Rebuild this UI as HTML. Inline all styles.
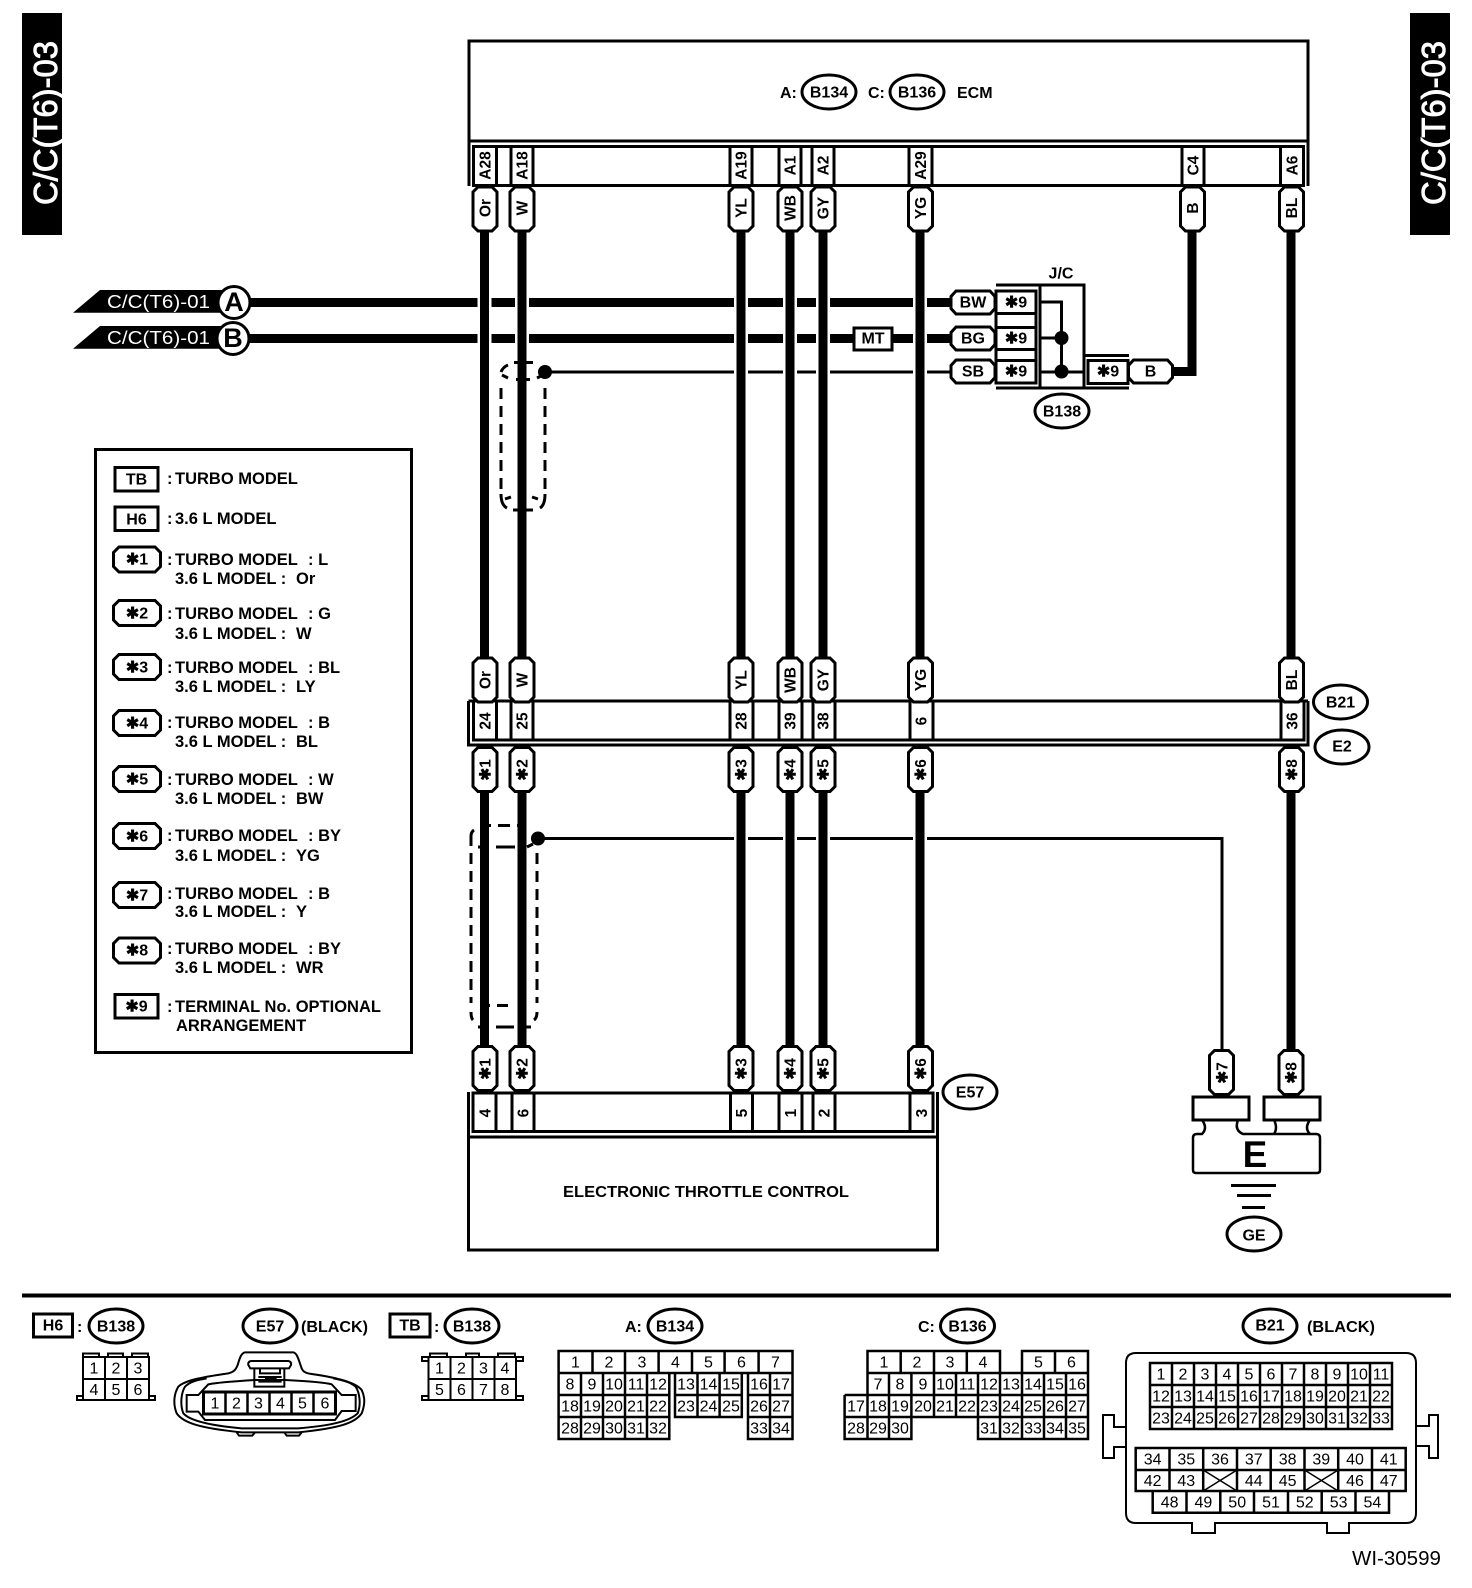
<!DOCTYPE html>
<html><head><meta charset="utf-8"><title>Wiring diagram</title>
<style>
html,body{margin:0;padding:0;background:#fff}
svg{display:block}
text{font-family:"Liberation Sans",sans-serif;fill:#000}
.b{font-weight:bold;font-size:16px}
.c{text-anchor:middle;dominant-baseline:central;transform:translate(0,1px)}
.r{font-weight:bold;font-size:15.5px;text-anchor:middle;dominant-baseline:central}
.n{font-size:16px;text-anchor:middle;dominant-baseline:central;transform:translate(0,1px)}
.l{font-weight:bold;font-size:16.5px}
.s{fill:#fff;stroke:#000;stroke-width:3}
.p{fill:none;stroke:#000;stroke-width:3}
.g{fill:none;stroke:#000;stroke-width:2.5}
.w{stroke:#fff;stroke-width:.9px;style:none}
</style></head><body>
<svg xmlns="http://www.w3.org/2000/svg" width="1472" height="1588" viewBox="0 0 1472 1588">
<defs>
<polygon id="vp" class="s" points="-7,-22 7,-22 12,-17 12,17 7,22 -7,22 -12,17 -12,-17"/>
<polygon id="hp" class="s" points="-17,-11.5 17,-11.5 22,-6 22,6 17,11.5 -17,11.5 -22,6 -22,-6"/>
<polygon id="lp" class="s" points="-18,-12.5 18,-12.5 23.5,-7 23.5,7 18,12.5 -18,12.5 -23.5,7 -23.5,-7"/>
<ellipse id="el" class="s" rx="27" ry="17"/>
</defs>
<rect width="1472" height="1588" fill="#fff"/>

<!-- side tabs -->
<rect x="22" y="13" width="40" height="222" fill="#000"/>
<text transform="translate(57,205) rotate(-90)" font-size="33" textLength="164" lengthAdjust="spacingAndGlyphs" style="fill:#fff;stroke:#fff;stroke-width:.9px">C/C(T6)-03</text>
<rect x="1410" y="13" width="40" height="222" fill="#000"/>
<text transform="translate(1445,205) rotate(-90)" font-size="33" textLength="164" lengthAdjust="spacingAndGlyphs" style="fill:#fff;stroke:#fff;stroke-width:.9px">C/C(T6)-03</text>

<!-- horizontal wires -->
<path d="M245 302.500H952M245 338.500H952" stroke="#000" stroke-width="9" fill="none"/>
<path d="M545 372H952M538 838.500H1222V1050" stroke="#000" stroke-width="3" fill="none"/>
<path d="M1170 371.500H1196.500M1192 231V376" stroke="#000" stroke-width="9" fill="none"/>

<!-- gaps -->
<path d="M484.500 290V350M522 290V350M741 290V382M790 290V382M823 290V382M920 290V382M741 830V847M790 830V847M823 830V847M920 830V847" stroke="#fff" stroke-width="14" fill="none"/>

<!-- shields -->
<path d="M501 388V490M545 388V490" fill="none" stroke="#000" stroke-width="3" stroke-dasharray="11 7"/>
<path d="M514 362.500H533M516 379.500H530M501 372Q503 367 508 365M502 375L508 378M537 378L545 374M505 499L511 497M532 497L538 499M501 494Q501 505 507 508M513 510H533M545 494Q545 505 540 508" fill="none" stroke="#000" stroke-width="3"/>
<path d="M471 853V1003M537 853V1003" fill="none" stroke="#000" stroke-width="3" stroke-dasharray="11 7"/>
<path d="M498 825.500H510M491 825.500H486M522 825.500H517M496 847H515M478 847H484M497 1005.500H508M486 1005.500H490M518 1005.500H522M496 1027H514M478 1027H486M524 1027H531M471 846V836Q471 832 474 830M471 1012Q471 1018 473 1020M537 1012Q537 1018 534 1020M533 844L527 847" fill="none" stroke="#000" stroke-width="3"/>

<!-- vertical wires -->
<path d="M484.500 231V660M484.500 792V1047M522 231V660M522 792V1047M741 231V660M741 792V1047M790 231V660M790 792V1047M823 231V660M823 792V1047M920 231V660M920 792V1047M1291 231V660M1291 792V1050" stroke="#000" stroke-width="9" fill="none"/>
<circle cx="545" cy="372" r="7"/><circle cx="538" cy="838.500" r="7"/>

<!-- ECM -->
<rect x="469" y="41" width="839" height="100" class="p"/>
<path class="p" d="M469 141V186M1308 141V186M473.500 146.500H1303.500V185.500H473.500Z"/>
<rect x="473.500" y="146.500" width="23" height="39" class="s"/>
<rect x="511" y="146.500" width="22" height="39" class="s"/>
<rect x="730" y="146.500" width="22" height="39" class="s"/>
<rect x="779" y="146.500" width="22" height="39" class="s"/>
<rect x="812" y="146.500" width="22" height="39" class="s"/>
<rect x="909" y="146.500" width="23" height="39" class="s"/>
<rect x="1182" y="146.500" width="22" height="39" class="s"/>
<rect x="1280.500" y="146.500" width="23" height="39" class="s"/>
<g transform="translate(1 0)">
<text class="r" transform="translate(485,165.500) rotate(-90)">A28</text>
<text class="r" transform="translate(522,165.500) rotate(-90)">A18</text>
<text class="r" transform="translate(741,165.500) rotate(-90)">A19</text>
<text class="r" transform="translate(790,165.500) rotate(-90)">A1</text>
<text class="r" transform="translate(823,165.500) rotate(-90)">A2</text>
<text class="r" transform="translate(920.500,165.500) rotate(-90)">A29</text>
<text class="r" transform="translate(1193,165.500) rotate(-90)">C4</text>
<text class="r" transform="translate(1292,165.500) rotate(-90)">A6</text>
</g>
<text class="b" x="780" y="98">A:</text>
<use href="#el" x="829" y="92"/><text class="b c" x="829" y="92">B134</text>
<text class="b" x="868" y="98">C:</text>
<use href="#el" x="917" y="92"/><text class="b c" x="917" y="92">B136</text>
<text class="b" x="957" y="98">ECM</text>

<!-- upper pills -->
<use href="#vp" x="485" y="209"/><use href="#vp" x="522" y="209"/><use href="#vp" x="741" y="209"/><use href="#vp" x="790" y="209"/><use href="#vp" x="823" y="209"/><use href="#vp" x="920.500" y="209"/><use href="#vp" x="1192.500" y="209"/><use href="#vp" x="1291.500" y="209"/>
<g transform="translate(1 0)">
<text class="r" transform="translate(485,208) rotate(-90)">Or</text>
<text class="r" transform="translate(522,208) rotate(-90)">W</text>
<text class="r" transform="translate(741,208) rotate(-90)">YL</text>
<text class="r" transform="translate(790,208) rotate(-90)">WB</text>
<text class="r" transform="translate(823,208) rotate(-90)">GY</text>
<text class="r" transform="translate(920.500,208) rotate(-90)">YG</text>
<text class="r" transform="translate(1192.500,208) rotate(-90)">B</text>
<text class="r" transform="translate(1291.500,208) rotate(-90)">BL</text>
</g>

<!-- off-page connectors -->
<polygon points="73,312.700 100,290 225,290 225,312.700" fill="#000"/>
<polygon points="73,348.700 100,326 225,326 225,348.700" fill="#000"/>
<text x="107" y="308" font-size="18" textLength="103" lengthAdjust="spacingAndGlyphs" style="fill:#fff">C/C(T6)-01</text>
<text x="107" y="344" font-size="18" textLength="103" lengthAdjust="spacingAndGlyphs" style="fill:#fff">C/C(T6)-01</text>
<circle cx="234" cy="302.500" r="16" class="s"/><text class="c" x="234" y="301" font-size="27" font-weight="bold">A</text>
<circle cx="233" cy="338.500" r="16" class="s"/><text class="c" x="233" y="337" font-size="27" font-weight="bold">B</text>

<!-- MT -->
<rect x="854" y="328" width="38" height="22" class="s"/><text class="b c" x="873" y="338">MT</text>

<!-- J/C block -->
<text class="b c" x="1061" y="273">J/C</text>
<path class="p" d="M996 285H1084V388H996M1040 285V388M1084 355.500H1129M1084 388H1129"/>
<rect x="996" y="291" width="40" height="92" class="s"/>
<path class="p" d="M996 313.500H1036M996 327.500H1036M996 349.500H1036M996 360.500H1036"/>
<rect x="1088" y="360.500" width="40" height="23" class="s"/>
<path d="M1040 302H1061.500V372M1040 338H1061.500M1040 372H1084" fill="none" stroke="#000" stroke-width="3"/>
<circle cx="1061.500" cy="338" r="7"/><circle cx="1061.500" cy="371.500" r="7"/>
<text class="b c" x="1016" y="302">✱9</text>
<text class="b c" x="1016" y="338">✱9</text>
<text class="b c" x="1016" y="371">✱9</text>
<text class="b c" x="1108" y="371">✱9</text>
<use href="#hp" x="973" y="302.500"/><text class="b c" x="973" y="302">BW</text>
<use href="#hp" x="973" y="338.500"/><text class="b c" x="973" y="338">BG</text>
<use href="#hp" x="973" y="371.500"/><text class="b c" x="973" y="371">SB</text>
<use href="#hp" x="1150.500" y="371.500"/><text class="b c" x="1150.500" y="371">B</text>
<use href="#el" x="1062" y="411"/><text class="b c" x="1062" y="411">B138</text>

<!-- B21/E2 connector -->
<path class="p" d="M468.500 701V745H1308V701M473.500 701V740H1304V701M468.500 701H1308"/>
<rect x="473.500" y="701" width="23" height="39" class="s"/>
<rect x="511" y="701" width="22" height="39" class="s"/>
<rect x="730" y="701" width="23" height="39" class="s"/>
<rect x="779" y="701" width="23" height="39" class="s"/>
<rect x="813" y="701" width="22" height="39" class="s"/>
<rect x="910" y="701" width="23" height="39" class="s"/>
<rect x="1281" y="701" width="23" height="39" class="s"/>
<g transform="translate(1 0)">
<text class="r" transform="translate(485,721) rotate(-90)">24</text>
<text class="r" transform="translate(522,721) rotate(-90)">25</text>
<text class="r" transform="translate(741,721) rotate(-90)">28</text>
<text class="r" transform="translate(790,721) rotate(-90)">39</text>
<text class="r" transform="translate(823,721) rotate(-90)">38</text>
<text class="r" transform="translate(921,721) rotate(-90)">6</text>
<text class="r" transform="translate(1292,721) rotate(-90)">36</text>
</g>
<use href="#vp" x="485" y="680"/><use href="#vp" x="522" y="680"/><use href="#vp" x="741" y="680"/><use href="#vp" x="790" y="680"/><use href="#vp" x="823" y="680"/><use href="#vp" x="920.500" y="680"/><use href="#vp" x="1291.500" y="680"/>
<g transform="translate(1 0)">
<text class="r" transform="translate(485,680) rotate(-90)">Or</text>
<text class="r" transform="translate(522,680) rotate(-90)">W</text>
<text class="r" transform="translate(741,680) rotate(-90)">YL</text>
<text class="r" transform="translate(790,680) rotate(-90)">WB</text>
<text class="r" transform="translate(823,680) rotate(-90)">GY</text>
<text class="r" transform="translate(920.500,680) rotate(-90)">YG</text>
<text class="r" transform="translate(1291.500,680) rotate(-90)">BL</text>
</g>
<use href="#vp" x="485" y="769.500"/><use href="#vp" x="522" y="769.500"/><use href="#vp" x="741" y="769.500"/><use href="#vp" x="790" y="769.500"/><use href="#vp" x="823" y="769.500"/><use href="#vp" x="920.500" y="769.500"/><use href="#vp" x="1291.500" y="769.500"/>
<g transform="translate(1 0)">
<text class="r" transform="translate(485,770) rotate(-90)">✱1</text>
<text class="r" transform="translate(522,770) rotate(-90)">✱2</text>
<text class="r" transform="translate(741,770) rotate(-90)">✱3</text>
<text class="r" transform="translate(790,770) rotate(-90)">✱4</text>
<text class="r" transform="translate(823,770) rotate(-90)">✱5</text>
<text class="r" transform="translate(920.500,770) rotate(-90)">✱6</text>
<text class="r" transform="translate(1291.500,770) rotate(-90)">✱8</text>
</g>
<use href="#el" x="1340.500" y="702"/><text class="b c" x="1340.500" y="702">B21</text>
<use href="#el" x="1342" y="747"/><text class="b c" x="1342" y="746">E2</text>

<!-- E57 lower -->
<rect x="468.500" y="1137" width="469" height="113" class="p"/>
<path class="p" d="M468.500 1092V1137M937.500 1092V1137M473 1093H933V1131.500H473Z"/>
<rect x="473" y="1093" width="23" height="38.500" class="s"/>
<rect x="512" y="1093" width="22" height="38.500" class="s"/>
<rect x="730.500" y="1093" width="22" height="38.500" class="s"/>
<rect x="779" y="1093" width="23" height="38.500" class="s"/>
<rect x="813" y="1093" width="22" height="38.500" class="s"/>
<rect x="910" y="1093" width="23" height="38.500" class="s"/>
<g transform="translate(1 0)">
<text class="r" transform="translate(485,1113) rotate(-90)">4</text>
<text class="r" transform="translate(523,1113) rotate(-90)">6</text>
<text class="r" transform="translate(741.500,1113) rotate(-90)">5</text>
<text class="r" transform="translate(790.500,1113) rotate(-90)">1</text>
<text class="r" transform="translate(824,1113) rotate(-90)">2</text>
<text class="r" transform="translate(921.500,1113) rotate(-90)">3</text>
</g>
<use href="#vp" x="485" y="1068.500"/><use href="#vp" x="522" y="1068.500"/><use href="#vp" x="741" y="1068.500"/><use href="#vp" x="790" y="1068.500"/><use href="#vp" x="823" y="1068.500"/><use href="#vp" x="920.500" y="1068.500"/>
<g transform="translate(1 0)">
<text class="r" transform="translate(485,1069) rotate(-90)">✱1</text>
<text class="r" transform="translate(522,1069) rotate(-90)">✱2</text>
<text class="r" transform="translate(741,1069) rotate(-90)">✱3</text>
<text class="r" transform="translate(790,1069) rotate(-90)">✱4</text>
<text class="r" transform="translate(823,1069) rotate(-90)">✱5</text>
<text class="r" transform="translate(920.500,1069) rotate(-90)">✱6</text>
</g>
<text class="b" x="563" y="1197" textLength="286" lengthAdjust="spacingAndGlyphs">ELECTRONIC THROTTLE CONTROL</text>
<use href="#el" x="970" y="1092"/><text class="b c" x="970" y="1092">E57</text>

<!-- ground -->
<use href="#vp" x="1221.500" y="1072.500"/><use href="#vp" x="1291" y="1072.500"/>
<g transform="translate(1 0)">
<text class="r" transform="translate(1222,1073) rotate(-90)">✱7</text>
<text class="r" transform="translate(1291,1073) rotate(-90)">✱8</text>
</g>
<rect x="1193" y="1097" width="56" height="23" class="s"/>
<rect x="1264" y="1097" width="56" height="23" class="s"/>
<path class="g" d="M1202 1120Q1208 1128 1202 1134H1197Q1193 1134 1193 1138V1170Q1193 1173 1196 1173H1317Q1320 1173 1320 1170V1138Q1320 1134 1316 1134H1243Q1234 1130 1238 1120M1274 1120Q1278 1128 1274 1134M1310 1120Q1304 1128 1310 1134"/>
<text x="1255" y="1167" text-anchor="middle" font-size="37" font-weight="bold">E</text>
<path class="p" d="M1231 1185.500H1276M1237 1195.500H1271M1242 1207.500H1265"/>
<use href="#el" x="1254" y="1234"/><text class="b c" x="1254" y="1235">GE</text>

<!-- legend -->
<rect x="95.500" y="449.500" width="316" height="603" class="p"/>
<rect x="115" y="467.500" width="43" height="23.500" class="s"/><text class="b c" x="136.500" y="479">TB</text>
<rect x="115" y="507" width="43" height="23.500" class="s"/><text class="b c" x="136.500" y="519">H6</text>
<use href="#lp" x="137" y="559.500"/><text class="b c" x="137" y="559">✱1</text>
<use href="#lp" x="137" y="613"/><text class="b c" x="137" y="613">✱2</text>
<use href="#lp" x="137" y="667"/><text class="b c" x="137" y="667">✱3</text>
<use href="#lp" x="137" y="723"/><text class="b c" x="137" y="723">✱4</text>
<use href="#lp" x="137" y="779"/><text class="b c" x="137" y="779">✱5</text>
<use href="#lp" x="137" y="836"/><text class="b c" x="137" y="836">✱6</text>
<use href="#lp" x="137" y="895"/><text class="b c" x="137" y="895">✱7</text>
<use href="#lp" x="137" y="950.500"/><text class="b c" x="137" y="950">✱8</text>
<rect x="115" y="994.500" width="43" height="23.500" class="s"/><text class="b c" x="136.500" y="1006">✱9</text>
<text class="l" x="167" y="484">:</text><text class="l" x="175" y="484">TURBO MODEL</text>
<text class="l" x="167" y="524">:</text><text class="l" x="175" y="524">3.6 L MODEL</text>
<text class="l" x="167" y="565">:</text><text class="l" x="175" y="565">TURBO MODEL</text><text class="l" x="308" y="565">: L</text>
<text class="l" x="175" y="584">3.6 L MODEL :</text><text class="l" x="296" y="584">Or</text>
<text class="l" x="167" y="619">:</text><text class="l" x="175" y="619">TURBO MODEL</text><text class="l" x="308" y="619">: G</text>
<text class="l" x="175" y="639">3.6 L MODEL :</text><text class="l" x="296" y="639">W</text>
<text class="l" x="167" y="673">:</text><text class="l" x="175" y="673">TURBO MODEL</text><text class="l" x="308" y="673">: BL</text>
<text class="l" x="175" y="692">3.6 L MODEL :</text><text class="l" x="296" y="692">LY</text>
<text class="l" x="167" y="728">:</text><text class="l" x="175" y="728">TURBO MODEL</text><text class="l" x="308" y="728">: B</text>
<text class="l" x="175" y="747">3.6 L MODEL :</text><text class="l" x="296" y="747">BL</text>
<text class="l" x="167" y="785">:</text><text class="l" x="175" y="785">TURBO MODEL</text><text class="l" x="308" y="785">: W</text>
<text class="l" x="175" y="804">3.6 L MODEL :</text><text class="l" x="296" y="804">BW</text>
<text class="l" x="167" y="841">:</text><text class="l" x="175" y="841">TURBO MODEL</text><text class="l" x="308" y="841">: BY</text>
<text class="l" x="175" y="861">3.6 L MODEL :</text><text class="l" x="296" y="861">YG</text>
<text class="l" x="167" y="899">:</text><text class="l" x="175" y="899">TURBO MODEL</text><text class="l" x="308" y="899">: B</text>
<text class="l" x="175" y="917">3.6 L MODEL :</text><text class="l" x="296" y="917">Y</text>
<text class="l" x="167" y="954">:</text><text class="l" x="175" y="954">TURBO MODEL</text><text class="l" x="308" y="954">: BY</text>
<text class="l" x="175" y="973">3.6 L MODEL :</text><text class="l" x="296" y="973">WR</text>
<text class="l" x="167" y="1012">:</text><text class="l" x="175" y="1012">TERMINAL No. OPTIONAL</text>
<text class="l" x="176" y="1031">ARRANGEMENT</text>

<!-- bottom section -->
<path d="M22 1295.500H1451" stroke="#000" stroke-width="4"/>
<rect x="33.500" y="1314" width="39" height="23" class="s"/><text class="b c" x="53" y="1325">H6</text>
<text class="b" x="77" y="1332">:</text>
<use href="#el" x="116" y="1326"/><text class="b c" x="116" y="1326">B138</text>
<use href="#el" x="270" y="1326"/><text class="b c" x="270" y="1326">E57</text>
<text class="b" x="301" y="1332" textLength="67" lengthAdjust="spacingAndGlyphs">(BLACK)</text>
<rect x="390" y="1314" width="40" height="23" class="s"/><text class="b c" x="410" y="1325">TB</text>
<text class="b" x="434" y="1332">:</text>
<use href="#el" x="472" y="1326"/><text class="b c" x="472" y="1326">B138</text>

<!-- H6 connector -->
<path class="g" style="stroke-width:2" d="M83 1357H149V1400H83ZM83 1379H149M105 1357V1400M127 1357V1400M83 1357V1353.500H99V1357M108 1357V1353.500H123V1357M132 1357V1353.500H148V1357M83 1396H77V1400H155V1396H149"/>
<text class="n" x="94" y="1368">1</text><text class="n" x="116" y="1368">2</text><text class="n" x="138" y="1368">3</text>
<text class="n" x="94" y="1389.500">4</text><text class="n" x="116" y="1389.500">5</text><text class="n" x="138" y="1389.500">6</text>

<!-- TB connector -->
<path class="g" style="stroke-width:2" d="M428.500 1357H516V1400H428.500ZM428.500 1379H516M450.500 1357V1400M472.500 1357V1400M494.500 1357V1400M430 1357V1353.500H447V1357M466 1357V1353.500H479V1357M498 1357V1353.500H515V1357M428.500 1357H422V1361H428.500M516 1357H523V1361H516M428.500 1396H422V1400H523V1396H516"/>
<text class="n" x="439.500" y="1368">1</text><text class="n" x="461.500" y="1368">2</text><text class="n" x="483.500" y="1368">3</text><text class="n" x="505" y="1368">4</text>
<text class="n" x="439.500" y="1389.500">5</text><text class="n" x="461.500" y="1389.500">6</text><text class="n" x="483.500" y="1389.500">7</text><text class="n" x="505" y="1389.500">8</text>

<!-- E57 connector -->
<g transform="translate(165,1345) scale(.33333)" fill="none" stroke="#000" stroke-width="6">
<path d="M240 22H385C398 25 402 50 410 70C415 82 425 85 440 87C520 98 575 115 590 135C600 155 600 180 590 205C570 235 520 250 400 262H230C110 250 55 235 35 205C25 180 25 150 40 125C60 105 120 95 190 85C205 82 212 75 218 60C224 40 228 25 240 22Z"/>
<path d="M125 100C95 105 75 110 60 125C48 145 45 180 55 205C75 228 140 242 230 250H400C500 242 555 228 578 205C588 180 585 145 572 125C555 110 530 105 505 100"/>
<path d="M270 105H360C420 108 480 112 500 118L530 150H572V198H530L510 225H120L100 200H65V150H100L130 118C160 112 220 108 270 105Z"/>
<path d="M258 48H370Q380 50 378 60L372 70H256L250 60Q248 50 258 48ZM268 70V125H358V70M285 70V85H345V70M280 96H350M280 110H350M300 102H335"/>
<path d="M215 262L222 272H262L270 262M358 262L365 272H402L410 262"/>
</g>
<rect x="203.500" y="1392" width="132" height="22" class="s"/>
<path class="g" d="M225.500 1392V1414M247.500 1392V1414M269.500 1392V1414M291.500 1392V1414M313.500 1392V1414"/>
<text class="n" x="215" y="1403">1</text><text class="n" x="236.500" y="1403">2</text><text class="n" x="258.500" y="1403">3</text><text class="n" x="280.500" y="1403">4</text><text class="n" x="302.500" y="1403">5</text><text class="n" x="325" y="1403">6</text>

<!-- B134 -->
<text class="b" x="625" y="1332">A:</text>
<use href="#el" x="675" y="1326"/><text class="b c" x="675" y="1326">B134</text>
<path class="g" d="M558.600 1351H792.500V1373H558.600ZM592.500 1351V1373M625 1351V1373M658.600 1351V1373M692 1351V1373M724.600 1351V1373M758.600 1351V1373
M558.600 1373V1439H669.300V1373M558.600 1395H669.300M558.600 1417H669.300M581 1373V1439M603 1373V1439M625 1373V1439M647 1373V1439
M675 1373V1417H741.800V1373M675 1395H741.800M675 1417H741.800M697.500 1373V1417M719.600 1373V1417
M748 1373V1439H792.500V1373M748 1395H792.500M748 1417H792.500M770 1373V1439"/>
<text class="n" x="575.500" y="1362">1</text><text class="n" x="609" y="1362">2</text><text class="n" x="642" y="1362">3</text><text class="n" x="675.500" y="1362">4</text><text class="n" x="708.500" y="1362">5</text><text class="n" x="741.500" y="1362">6</text><text class="n" x="775.500" y="1362">7</text>
<text class="n" x="570" y="1384">8</text><text class="n" x="592" y="1384">9</text><text class="n" x="614" y="1384">10</text><text class="n" x="636" y="1384">11</text><text class="n" x="658" y="1384">12</text><text class="n" x="686" y="1384">13</text><text class="n" x="708.500" y="1384">14</text><text class="n" x="731" y="1384">15</text><text class="n" x="759" y="1384">16</text><text class="n" x="781" y="1384">17</text>
<text class="n" x="570" y="1406">18</text><text class="n" x="592" y="1406">19</text><text class="n" x="614" y="1406">20</text><text class="n" x="636" y="1406">21</text><text class="n" x="658" y="1406">22</text><text class="n" x="686" y="1406">23</text><text class="n" x="708.500" y="1406">24</text><text class="n" x="731" y="1406">25</text><text class="n" x="759" y="1406">26</text><text class="n" x="781" y="1406">27</text>
<text class="n" x="570" y="1428">28</text><text class="n" x="592" y="1428">29</text><text class="n" x="614" y="1428">30</text><text class="n" x="636" y="1428">31</text><text class="n" x="658" y="1428">32</text><text class="n" x="759" y="1428">33</text><text class="n" x="781" y="1428">34</text>

<!-- B136 -->
<text class="b" x="918" y="1332">C:</text>
<use href="#el" x="967.500" y="1326"/><text class="b c" x="967.500" y="1326">B136</text>
<path class="g" d="M867.500 1351H1000V1373H867.500ZM900.700 1351V1373M934 1351V1373M966.800 1351V1373M1022 1373V1351H1088V1373M1055 1351V1373
M844.600 1395H1088M867.500 1373H1088V1417H844.600V1395M844.600 1417V1439H911.400V1417M978 1417V1439H1088V1417M867.500 1373V1417M889 1373V1439M911.400 1373V1417M934 1373V1417M956 1373V1417M978 1373V1417M1000 1373V1439M1022 1373V1439M1044 1373V1439M1066 1373V1439M867.500 1417V1439"/>
<text class="n" x="884" y="1362">1</text><text class="n" x="917" y="1362">2</text><text class="n" x="950" y="1362">3</text><text class="n" x="983" y="1362">4</text><text class="n" x="1038.500" y="1362">5</text><text class="n" x="1071.500" y="1362">6</text>
<text class="n" x="878" y="1384">7</text><text class="n" x="900" y="1384">8</text><text class="n" x="923" y="1384">9</text><text class="n" x="945" y="1384">10</text><text class="n" x="967" y="1384">11</text><text class="n" x="989" y="1384">12</text><text class="n" x="1011" y="1384">13</text><text class="n" x="1033" y="1384">14</text><text class="n" x="1055" y="1384">15</text><text class="n" x="1077" y="1384">16</text>
<text class="n" x="856" y="1406">17</text><text class="n" x="878" y="1406">18</text><text class="n" x="900" y="1406">19</text><text class="n" x="923" y="1406">20</text><text class="n" x="945" y="1406">21</text><text class="n" x="967" y="1406">22</text><text class="n" x="989" y="1406">23</text><text class="n" x="1011" y="1406">24</text><text class="n" x="1033" y="1406">25</text><text class="n" x="1055" y="1406">26</text><text class="n" x="1077" y="1406">27</text>
<text class="n" x="856" y="1428">28</text><text class="n" x="878" y="1428">29</text><text class="n" x="900" y="1428">30</text><text class="n" x="989" y="1428">31</text><text class="n" x="1011" y="1428">32</text><text class="n" x="1033" y="1428">33</text><text class="n" x="1055" y="1428">34</text><text class="n" x="1077" y="1428">35</text>

<!-- B21 connector -->
<use href="#el" x="1270" y="1326"/><text class="b c" x="1270" y="1325">B21</text>
<text class="b" x="1307" y="1332" textLength="68" lengthAdjust="spacingAndGlyphs">(BLACK)</text>
<path class="g" style="stroke-width:2" d="M1136 1353H1406Q1416 1353 1416 1363V1513Q1416 1523 1406 1523H1349V1533H1327V1523H1215V1533H1192V1523H1136Q1126 1523 1126 1513V1363Q1126 1353 1136 1353ZM1126 1427H1114V1415H1103V1458H1114V1447H1126M1416 1426H1429V1415H1438V1458H1429V1446H1416"/>
<path class="g" d="M1150 1363H1392V1429H1150ZM1150 1385H1392M1150 1407H1392M1172 1363V1429M1194 1363V1429M1216 1363V1429M1238 1363V1429M1260 1363V1429M1282 1363V1429M1304 1363V1429M1326 1363V1429M1348 1363V1429M1370 1363V1429"/>
<path class="g" d="M1135.700 1448H1405.700V1491H1135.700ZM1135.700 1470H1405.700M1169.500 1448V1491M1203.200 1448V1491M1237 1448V1491M1270.700 1448V1491M1304.500 1448V1491M1338.200 1448V1491M1372 1448V1491"/>
<path class="g" d="M1152.700 1491V1512.700H1389V1491M1186.500 1491V1512.700M1220.300 1491V1512.700M1254 1491V1512.700M1288 1491V1512.700M1321.700 1491V1512.700M1355.500 1491V1512.700"/>
<path d="M1203.200 1470L1237 1491M1237 1470L1203.200 1491M1304.500 1470L1338.200 1491M1338.200 1470L1304.500 1491" stroke="#000" stroke-width="1.500" fill="none"/>
<text class="n" x="1161" y="1374">1</text><text class="n" x="1183" y="1374">2</text><text class="n" x="1205" y="1374">3</text><text class="n" x="1227" y="1374">4</text><text class="n" x="1249" y="1374">5</text><text class="n" x="1271" y="1374">6</text><text class="n" x="1293" y="1374">7</text><text class="n" x="1315" y="1374">8</text><text class="n" x="1337" y="1374">9</text><text class="n" x="1359" y="1374">10</text><text class="n" x="1381" y="1374">11</text>
<text class="n" x="1161" y="1396">12</text><text class="n" x="1183" y="1396">13</text><text class="n" x="1205" y="1396">14</text><text class="n" x="1227" y="1396">15</text><text class="n" x="1249" y="1396">16</text><text class="n" x="1271" y="1396">17</text><text class="n" x="1293" y="1396">18</text><text class="n" x="1315" y="1396">19</text><text class="n" x="1337" y="1396">20</text><text class="n" x="1359" y="1396">21</text><text class="n" x="1381" y="1396">22</text>
<text class="n" x="1161" y="1418">23</text><text class="n" x="1183" y="1418">24</text><text class="n" x="1205" y="1418">25</text><text class="n" x="1227" y="1418">26</text><text class="n" x="1249" y="1418">27</text><text class="n" x="1271" y="1418">28</text><text class="n" x="1293" y="1418">29</text><text class="n" x="1315" y="1418">30</text><text class="n" x="1337" y="1418">31</text><text class="n" x="1359" y="1418">32</text><text class="n" x="1381" y="1418">33</text>
<text class="n" x="1152.600" y="1459">34</text><text class="n" x="1186.300" y="1459">35</text><text class="n" x="1220" y="1459">36</text><text class="n" x="1253.800" y="1459">37</text><text class="n" x="1287.600" y="1459">38</text><text class="n" x="1321.300" y="1459">39</text><text class="n" x="1355" y="1459">40</text><text class="n" x="1388.800" y="1459">41</text>
<text class="n" x="1152.600" y="1480.500">42</text><text class="n" x="1186.300" y="1480.500">43</text><text class="n" x="1253.800" y="1480.500">44</text><text class="n" x="1287.600" y="1480.500">45</text><text class="n" x="1355" y="1480.500">46</text><text class="n" x="1388.800" y="1480.500">47</text>
<text class="n" x="1169.600" y="1502">48</text><text class="n" x="1203.400" y="1502">49</text><text class="n" x="1237.200" y="1502">50</text><text class="n" x="1271" y="1502">51</text><text class="n" x="1304.800" y="1502">52</text><text class="n" x="1338.600" y="1502">53</text><text class="n" x="1372.400" y="1502">54</text>

<text x="1352" y="1565" font-size="20.500">WI-30599</text>
</svg>
</body></html>
